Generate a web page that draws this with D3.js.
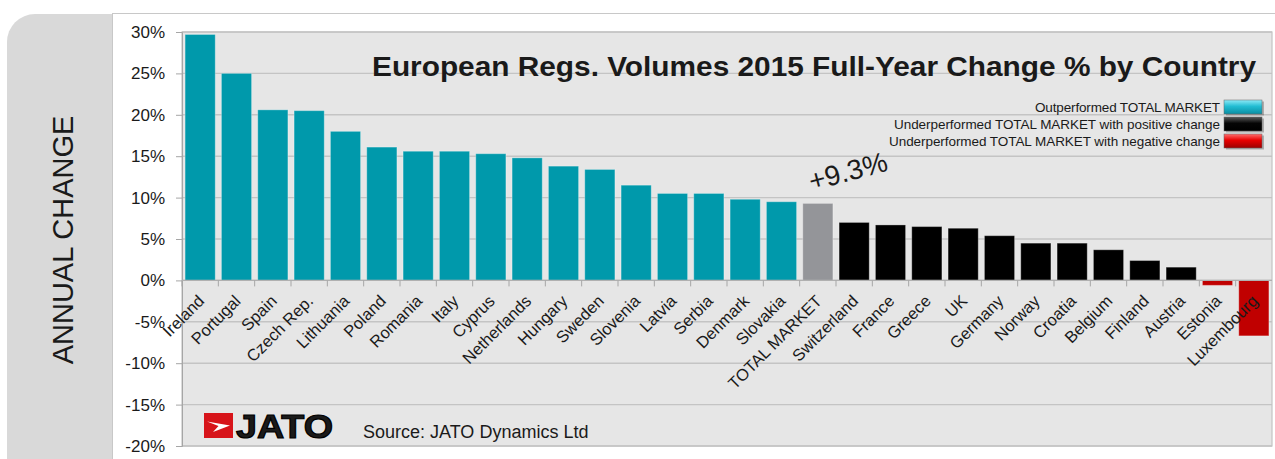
<!DOCTYPE html>
<html>
<head>
<meta charset="utf-8">
<script src="https://cdn.jsdelivr.net/npm/d3@7"></script>
<style>
  body { margin: 0; background: #fff; }
  svg text { font-family: Arial, "Liberation Sans", sans-serif; fill: #1a1a1a; }
</style>
</head>
<body>
<div id="chart"></div>
<script>
// data
var countries = ["Ireland", "Portugal", "Spain", "Czech Rep.", "Lithuania", "Poland", "Romania", "Italy",
    "Cyprus", "Netherlands", "Hungary", "Sweden", "Slovenia", "Latvia", "Serbia", "Denmark", "Slovakia",
    "TOTAL MARKET", "Switzerland", "France", "Greece", "UK", "Germany", "Norway", "Croatia", "Belgium",
    "Finland", "Austria", "Estonia", "Luxembourg"];
var changes = [29.7, 25.0, 20.6, 20.5, 18.0, 16.1, 15.6, 15.6,
    15.3, 14.8, 13.8, 13.4, 11.5, 10.5, 10.5, 9.8, 9.5,
    9.3, 7.0, 6.7, 6.5, 6.3, 5.4, 4.5, 4.5, 3.7,
    2.4, 1.6, -0.6, -6.7];
var yTicks = [-20, -15, -10, -5, 0, 5, 10, 15, 20, 25, 30];
var legendLabels = ["Outperformed TOTAL MARKET",
    "Underperformed TOTAL MARKET with positive change",
    "Underperformed TOTAL MARKET with negative change"];
var totalName = "TOTAL MARKET";

function drawchart(chart_id) {
    var W = 1275, H = 459;
    var plot = {left: 182, top: 32, right: 1272, bottom: 446};
    var teal = "#0099ab", black = "#000000", red = "#c00000", grey = "#949599";

    var total = changes[countries.indexOf(totalName)];
    var rows = countries.map(function(c, i) { return {name: c, value: changes[i]}; });

    // colour by how the country did against the total market
    function barColor(d) {
        if (d.name == totalName) return grey;
        if (d.value < 0) return red;
        if (d.value > total) return teal;
        return black;
    }

    var svg = d3.select(chart_id).append("svg")
        .attr("width", W)
        .attr("height", H);

    var defs = svg.append("defs");
    var gloss = [["gTeal", "#8eeaf7", "#22bdd3", "#0b8ea2"],
                 ["gBlack", "#5a5a5a", "#050505", "#000"],
                 ["gRed", "#ff7070", "#e80000", "#9c0000"]];
    gloss.forEach(function(g) {
        var lg = defs.append("linearGradient").attr("id", g[0])
            .attr("x1", 0).attr("y1", 0).attr("x2", 0).attr("y2", 1);
        lg.append("stop").attr("offset", "0%").attr("stop-color", g[1]);
        lg.append("stop").attr("offset", "45%").attr("stop-color", g[2]);
        lg.append("stop").attr("offset", "100%").attr("stop-color", g[3]);
    });

    // left grey panel + white frame
    svg.append("rect")
        .attr("x", 7).attr("y", 14).attr("width", 140).attr("height", 480)
        .attr("rx", 28).attr("fill", "#d9d9d9");
    svg.append("rect")
        .attr("x", 112.5).attr("y", 13.5).attr("width", 1180).attr("height", 470)
        .attr("fill", "#fff").attr("stroke", "#c8c8c8");

    svg.append("text")
        .attr("transform", "translate(73,240) rotate(-90)")
        .attr("text-anchor", "middle")
        .style("font-size", "29px")
        .attr("fill", "#262626")
        .text("ANNUAL CHANGE");

    var x = d3.scaleBand()
        .domain(countries)
        .range([plot.left, plot.right])
        .paddingInner(0.17)
        .paddingOuter(0.085);
    var gap = (x.step() - x.bandwidth()) / 2;

    var y = d3.scaleLinear()
        .domain([-20, 30])
        .range([plot.bottom, plot.top]);

    svg.append("rect")
        .attr("x", plot.left).attr("y", plot.top)
        .attr("width", plot.right - plot.left).attr("height", plot.bottom - plot.top)
        .attr("fill", "#e6e6e6");

    svg.append("g")
        .selectAll("line")
        .data(yTicks)
        .enter().append("line")
        .attr("x1", plot.left).attr("x2", plot.right)
        .attr("y1", function(d) { return y(d); })
        .attr("y2", function(d) { return y(d); })
        .attr("stroke", "#c4c4c4")
        .attr("stroke-width", 1.4);

    svg.append("rect")
        .attr("x", plot.left).attr("y", plot.top)
        .attr("width", plot.right - plot.left).attr("height", plot.bottom - plot.top)
        .attr("fill", "none").attr("stroke", "#c4c4c4").attr("stroke-width", 1.2);

    // title
    svg.append("text")
        .attr("x", 372).attr("y", 76)
        .attr("textLength", 884)
        .attr("lengthAdjust", "spacingAndGlyphs")
        .style("font-size", "27px")
        .style("font-weight", "bold")
        .attr("fill", "#000")
        .text("European Regs. Volumes 2015 Full-Year Change % by Country");

    // bars
    svg.append("g")
        .selectAll("rect")
        .data(rows)
        .enter().append("rect")
        .attr("x", function(d) { return x(d.name); })
        .attr("width", x.bandwidth())
        .attr("y", function(d) { return y(Math.max(0, d.value)); })
        .attr("height", function(d) { return Math.abs(y(d.value) - y(0)); })
        .attr("fill", barColor)
        .attr("stroke", "#fff")
        .attr("stroke-opacity", 0.3);

    // y axis
    var yAxis = d3.axisLeft(y)
        .tickValues(yTicks)
        .tickSize(6)
        .tickPadding(11)
        .tickFormat(function(d) { return d + "%"; });
    var ya = svg.append("g")
        .attr("class", "y axis")
        .attr("transform", "translate(" + plot.left + ",0)")
        .call(yAxis);
    ya.select(".domain").attr("stroke", "#a6a6a6");
    ya.selectAll(".tick line").attr("stroke", "#a6a6a6");
    ya.selectAll("text").style("font-size", "17px").attr("fill", "#1a1a1a");

    // zero line with category ticks
    svg.append("line")
        .attr("x1", plot.left).attr("x2", plot.right)
        .attr("y1", y(0)).attr("y2", y(0))
        .attr("stroke", "#b0b0b0").attr("stroke-width", 1.2);
    svg.append("g")
        .selectAll("line")
        .data(countries)
        .enter().append("line")
        .attr("x1", function(d) { return x(d) - gap; })
        .attr("x2", function(d) { return x(d) - gap; })
        .attr("y1", y(0)).attr("y2", y(0) + 6)
        .attr("stroke", "#a6a6a6");

    // category labels
    svg.append("g")
        .selectAll("text")
        .data(countries)
        .enter().append("text")
        .attr("transform", function(d) {
            return "translate(" + (x(d) + x.bandwidth() / 2 + 1) + "," + 298 + ") rotate(-45)";
        })
        .attr("text-anchor", "end")
        .attr("dy", "0.35em")
        .style("font-size", "16.5px")
        .text(function(d) { return d; });

    // total market annotation
    svg.append("text")
        .attr("transform", "translate(" + (x(totalName) + 9) + ",191) rotate(-15)")
        .style("font-size", "28px")
        .attr("fill", "#1a1a1a")
        .text("+" + d3.format(".1f")(total) + "%");

    // legend
    var legendW = [185, 326, 331];
    var legendFill = ["url(#gTeal)", "url(#gBlack)", "url(#gRed)"];
    var lg = svg.append("g").attr("class", "legend");
    legendLabels.forEach(function(t, i) {
        var yy = 100 + i * 17;
        lg.append("rect")
            .attr("x", 1226).attr("y", yy + 1.5)
            .attr("width", 38).attr("height", 14)
            .attr("fill", "#000").attr("opacity", 0.25);
        lg.append("rect")
            .attr("x", 1224).attr("y", yy)
            .attr("width", 38).attr("height", 14)
            .attr("fill", legendFill[i])
            .attr("stroke", "#666").attr("stroke-width", 0.5);
        lg.append("text")
            .attr("x", 1220 - legendW[i]).attr("y", yy + 12)
            .attr("textLength", legendW[i])
            .attr("lengthAdjust", "spacing")
            .style("font-size", "13.5px")
            .attr("fill", "#222")
            .text(t);
    });

    // JATO logo + source
    var logo = svg.append("g").attr("transform", "translate(204,413)");
    logo.append("rect").attr("width", 29).attr("height", 25).attr("fill", "#d7141a");
    logo.append("path")
        .attr("d", "M3,8.5 L26,12.5 L9,19 L14.5,13 Z")
        .attr("fill", "#fff");
    svg.append("text")
        .attr("x", 236).attr("y", 438)
        .attr("textLength", 97)
        .attr("lengthAdjust", "spacingAndGlyphs")
        .style("font-size", "34px")
        .style("font-weight", "bold")
        .attr("fill", "#000")
        .attr("stroke", "#000").attr("stroke-width", 1.2)
        .text("JATO");
    svg.append("text")
        .attr("x", 363).attr("y", 438)
        .style("font-size", "18px")
        .attr("fill", "#111")
        .text("Source: JATO Dynamics Ltd");
}

drawchart("#chart");
</script>
</body>
</html>
